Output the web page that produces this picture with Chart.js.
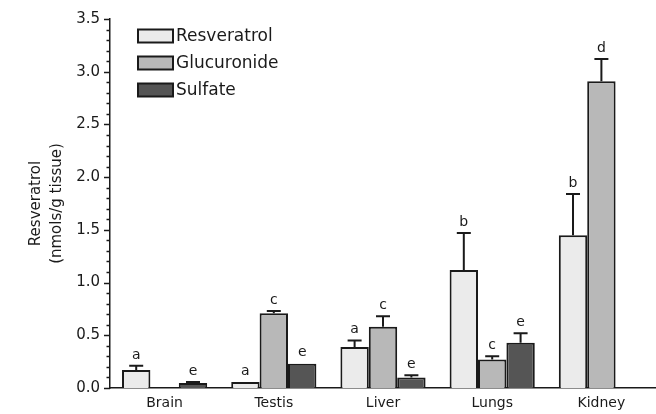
<!DOCTYPE html>
<html>
<head>
<meta charset="utf-8">
<script src="https://cdn.jsdelivr.net/npm/chart.js@4"></script>
<style>
  html, body { margin: 0; padding: 0; background: #fff; }
  #wrap { width: 656px; height: 414px; }
</style>
</head>
<body>
<div id="wrap"><canvas id="chart" width="656" height="414"></canvas></div>
<script>
const tissues = ['Brain', 'Testis', 'Liver', 'Lungs', 'Kidney'];
const seriesNames = ['Resveratrol', 'Glucuronide', 'Sulfate'];
const resveratrol = [0.17, 0.057, 0.39, 1.12, 1.45];
const glucuronide = [null, 0.71, 0.58, 0.27, 2.91];
const sulfate = [0.047, 0.23, 0.10, 0.43, null];
const resveratrolErr = [0.04, 0, 0.06, 0.35, 0.39];
const glucuronideErr = [0, 0.02, 0.10, 0.03, 0.21];
const sulfateErr = [0.01, 0, 0.02, 0.09, 0];
const resveratrolSig = ['a', 'a', 'a', 'b', 'b'];
const glucuronideSig = ['', 'c', 'c', 'c', 'd'];
const sulfateSig = ['e', 'e', 'e', 'e', ''];

const FONT = "'DejaVu Sans', 'Liberation Sans', Arial, sans-serif";
const fills = ['#ebebeb', '#b8b8b8', '#555555'];

// Fehlerbalken + Buchstaben über den Balken
const errorBars = {
    id: 'errorBars',
    afterDatasetsDraw(chart) {
        const ctx = chart.ctx;
        const y = chart.scales.y;
        ctx.save();
        ctx.strokeStyle = '#1a1a1a';
        ctx.lineWidth = 2;
        ctx.fillStyle = '#1a1a1a';
        ctx.font = '14px ' + FONT;
        ctx.textAlign = 'center';
        ctx.textBaseline = 'bottom';
        chart.data.datasets.forEach((ds, i) => {
            const meta = chart.getDatasetMeta(i);
            meta.data.forEach((bar, j) => {
                const v = ds.data[j];
                if (v === null || v === undefined) return;
                const err = ds.errors[j] || 0;
                let top = bar.y;
                if (err > 0) {
                    const yc = y.getPixelForValue(v + err);
                    ctx.beginPath();
                    ctx.moveTo(bar.x, bar.y);
                    ctx.lineTo(bar.x, yc);
                    ctx.moveTo(bar.x - 7, yc);
                    ctx.lineTo(bar.x + 7, yc);
                    ctx.stroke();
                    top = yc;
                }
                if (ds.sig[j]) ctx.fillText(ds.sig[j], bar.x, top - 4);
            });
        });
        ctx.restore();
    }
};

// kleine und grosse Striche an der y-Achse
const yTicks = {
    id: 'yTicks',
    afterDraw(chart) {
        const ctx = chart.ctx;
        const y = chart.scales.y;
        const x0 = chart.chartArea.left;
        ctx.save();
        ctx.strokeStyle = '#1a1a1a';
        ctx.lineWidth = 1.5;
        y.ticks.forEach(t => {
            const py = Math.round(y.getPixelForValue(t.value)) + 0.5;
            const major = Math.round(t.value * 10) % 5 === 0;
            ctx.beginPath();
            ctx.moveTo(x0 - (major ? 6 : 3.5), py);
            ctx.lineTo(x0, py);
            ctx.stroke();
        });
        ctx.restore();
    }
};

// Legende oben links im Diagramm
const boxLegend = {
    id: 'boxLegend',
    afterDraw(chart) {
        const ctx = chart.ctx;
        ctx.save();
        ctx.font = '17px ' + FONT;
        ctx.textBaseline = 'middle';
        ctx.textAlign = 'left';
        chart.data.datasets.forEach((ds, i) => {
            const cy = 36 + i * 27;
            ctx.fillStyle = ds.backgroundColor;
            ctx.fillRect(138, cy - 6.5, 35, 13);
            ctx.strokeStyle = '#1a1a1a';
            ctx.lineWidth = 2;
            ctx.strokeRect(138, cy - 6.5, 35, 13);
            ctx.fillStyle = '#1a1a1a';
            ctx.fillText(ds.label, 176, cy + 1);
        });
        ctx.restore();
    }
};

function makeSet(i, data, errors, sig) {
    return {
        label: seriesNames[i],
        data: data,
        errors: errors,
        sig: sig,
        backgroundColor: fills[i],
        borderColor: '#1a1a1a',
        borderWidth: 2,
        borderSkipped: 'bottom',
        categoryPercentage: 0.78,
        barPercentage: 1.0
    };
}

new Chart(document.getElementById('chart'), {
    type: 'bar',
    data: {
        labels: tissues,
        datasets: [
            makeSet(0, resveratrol, resveratrolErr, resveratrolSig),
            makeSet(1, glucuronide, glucuronideErr, glucuronideSig),
            makeSet(2, sulfate, sulfateErr, sulfateSig)
        ]
    },
    options: {
        responsive: false,
        animation: false,
        layout: { padding: { top: 18, right: 0, left: 0, bottom: 0 } },
        plugins: {
            legend: { display: false },
            tooltip: { enabled: false }
        },
        scales: {
            x: {
                grid: { display: false, drawTicks: false },
                border: { display: true, color: '#1a1a1a', width: 1.5 },
                ticks: {
                    color: '#1a1a1a',
                    font: { family: FONT, size: 14 },
                    padding: 7,
                    maxRotation: 0
                },
                afterFit(scale) { scale.height = 26; }
            },
            y: {
                min: 0,
                max: 3.5,
                grid: { display: false, drawTicks: false },
                border: { display: true, color: '#1a1a1a', width: 1.5 },
                ticks: {
                    stepSize: 0.1,
                    autoSkip: false,
                    color: '#1a1a1a',
                    font: { family: FONT, size: 15 },
                    padding: 10,
                    callback: v => (Math.round(v * 10) % 5 === 0 ? v.toFixed(1) : '')
                },
                title: {
                    display: true,
                    text: ['Resveratrol', '(nmols/g tissue)'],
                    color: '#1a1a1a',
                    font: { family: FONT, size: 15, lineHeight: 1.4 },
                    padding: { top: 26, bottom: 0 }
                },
                afterFit(scale) { scale.width = 110; }
            }
        }
    },
    plugins: [errorBars, yTicks, boxLegend]
});
</script>
</body>
</html>
